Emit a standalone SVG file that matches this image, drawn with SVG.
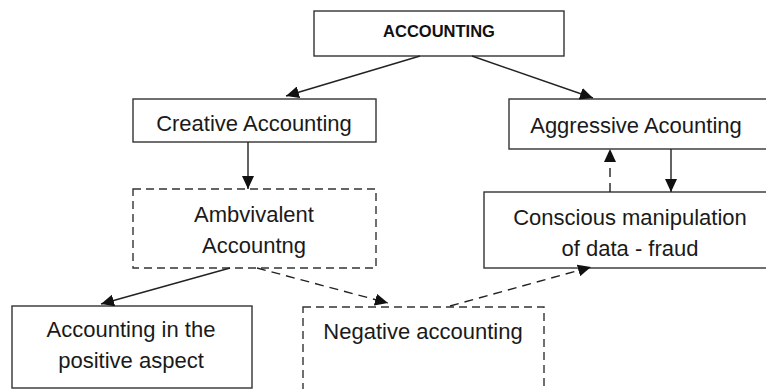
<svg xmlns="http://www.w3.org/2000/svg" width="766" height="389" viewBox="0 0 766 389">
<defs>
<marker id="ah" markerUnits="userSpaceOnUse" markerWidth="14" markerHeight="12" refX="13" refY="6" orient="auto">
<path d="M0,0 L13,6 L0,12 Z" fill="#111"/>
</marker>
<style>
.box{fill:#fff;stroke:#333;stroke-width:1.4}
.dbox{fill:#fff;stroke:#333;stroke-width:1.4;stroke-dasharray:8 5}
.t{font-family:"Liberation Sans",Arial,sans-serif;font-size:22px;fill:#1a1a1a;text-anchor:middle}
.tb{font-family:"Liberation Sans",Arial,sans-serif;font-size:16.5px;font-weight:bold;fill:#111;text-anchor:middle}
.c{stroke:#222;stroke-width:1.4;fill:none;marker-end:url(#ah)}
.cd{stroke:#222;stroke-width:1.4;fill:none;stroke-dasharray:9 6;marker-end:url(#ah)}
</style>
</defs>
<rect width="766" height="389" fill="#fff"/>
<g id="accounting">
<rect class="box" x="314" y="11" width="250" height="45"/>
<text class="tb" x="439" y="37">ACCOUNTING</text>
</g>
<g id="creative">
<rect class="box" x="133" y="99" width="243" height="43"/>
<text class="t" x="254" y="131">Creative Accounting</text>
</g>
<g id="aggressive">
<rect class="box" x="509" y="99" width="270" height="50"/>
<text class="t" x="636" y="133">Aggressive Acounting</text>
</g>
<g id="ambivalent">
<rect class="dbox" x="133" y="189" width="243" height="79"/>
<text class="t" x="254" y="222">Ambvivalent</text>
<text class="t" x="254" y="253">Accountng</text>
</g>
<g id="conscious">
<rect class="box" x="484" y="192" width="295" height="76"/>
<text class="t" x="630" y="225">Conscious manipulation</text>
<text class="t" x="630" y="256">of data - fraud</text>
</g>
<g id="positive">
<rect class="box" x="12" y="306" width="240" height="82"/>
<text class="t" x="131" y="337">Accounting in the</text>
<text class="t" x="131" y="368">positive aspect</text>
</g>
<g id="negative">
<rect class="dbox" x="303" y="307" width="241" height="100"/>
<text class="t" x="423" y="339">Negative accounting</text>
</g>
<g id="connectors">
<path class="c" d="M420,56 L286,96"/>
<path class="c" d="M472,56 L593,98"/>
<path class="c" d="M248,142 L248,189"/>
<path class="c" d="M671,149 L671,192"/>
<path class="cd" d="M610,192 L610,149"/>
<path class="c" d="M230,268 L101,304"/>
<path class="cd" d="M257,268 L388,303"/>
<path class="cd" d="M450,306 L591,267"/>
</g>
</svg>
